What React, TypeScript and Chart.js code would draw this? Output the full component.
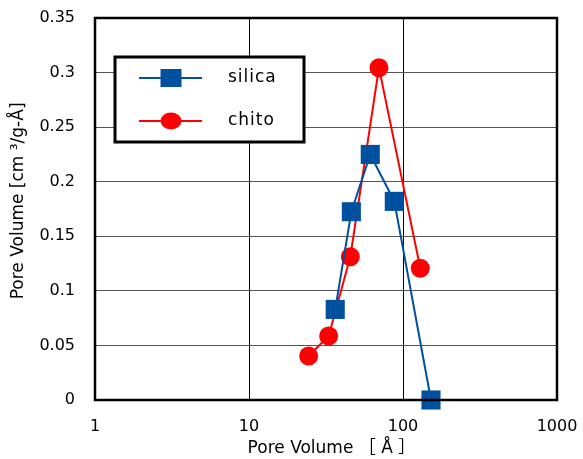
import React, { useEffect, useRef } from "react";
import { Chart, registerables } from "chart.js";

Chart.register(...registerables);

const seriesNames = ["silica", "chito"];
const silicaX = [36.3, 46.2, 61.3, 87.8, 152];
const silicaY = [0.083, 0.1725, 0.225, 0.182, 0];
const chitoX = [24.4, 32.9, 45.5, 69.8, 129.5];
const chitoY = [0.0403, 0.0586, 0.1313, 0.3045, 0.1207];
const xTicks = [1, 10, 100, 1000];
const yMin = 0;
const yMax = 0.35;
const yStep = 0.05;
const xTitle = "  Pore Volume ［ Å ］";
const yTitle = "   Pore Volume [cm ³/g-Å]";

const FONT = "'DejaVu Sans', 'Noto Sans CJK JP', sans-serif";
const BLUE = "#0050A0";
const RED = "#FF0000";

const zeroPad = (s: any) => {
  s.paddingTop = 0;
  s.paddingBottom = 0;
  s.paddingLeft = 0;
  s.paddingRight = 0;
};

const frameAndLegend = {
  id: "frameAndLegend",
  afterDatasetsDraw(chart: any) {
    const { ctx, chartArea } = chart;
    ctx.save();
    ctx.strokeStyle = "#000";
    ctx.lineWidth = 2.5;
    ctx.strokeRect(chartArea.left, chartArea.top, chartArea.right - chartArea.left, chartArea.bottom - chartArea.top);
    ctx.restore();
  },
  afterDraw(chart: any) {
    const { ctx } = chart;
    ctx.save();
    const bx = 115, by = 57, bw = 189, bh = 85;
    ctx.fillStyle = "#fff";
    ctx.fillRect(bx, by, bw, bh);
    ctx.strokeStyle = "#000";
    ctx.lineWidth = 3;
    ctx.strokeRect(bx, by, bw, bh);
    const rows = [78, 121];
    chart.data.datasets.forEach((ds: any, i: number) => {
      const y = rows[i];
      ctx.strokeStyle = ds.borderColor;
      ctx.lineWidth = 2;
      ctx.beginPath();
      ctx.moveTo(139, y);
      ctx.lineTo(202, y);
      ctx.stroke();
      ctx.fillStyle = ds.backgroundColor;
      if (ds.pointStyle === "rect") {
        ctx.fillRect(171 - 10.5, y - 9, 21, 18);
      } else {
        ctx.beginPath();
        ctx.ellipse(171, y, 10.5, 8.5, 0, 0, Math.PI * 2);
        ctx.fill();
      }
      ctx.fillStyle = "#000";
      ctx.font = `17px ${FONT}`;
      (ctx as any).letterSpacing = "1px";
      ctx.textBaseline = "middle";
      ctx.textAlign = "left";
      ctx.fillText(ds.label, 228, y);
      (ctx as any).letterSpacing = "0px";
    });
    ctx.restore();
  },
};

export default function App() {
  const ref = useRef<HTMLCanvasElement>(null);
  useEffect(() => {
    if (!ref.current) return;
    const chart = new Chart(ref.current, {
      type: "line",
      data: {
        datasets: [
          {
            label: seriesNames[0],
            data: silicaX.map((x, i) => ({ x, y: silicaY[i] })),
            borderColor: BLUE,
            backgroundColor: BLUE,
            borderWidth: 2,
            pointStyle: "rect",
            pointRadius: 13.5,
            pointBorderWidth: 0,
            clip: false,
          },
          {
            label: seriesNames[1],
            data: chitoX.map((x, i) => ({ x, y: chitoY[i] })),
            borderColor: RED,
            backgroundColor: RED,
            borderWidth: 2,
            pointStyle: "circle",
            pointRadius: 9.5,
            pointBorderWidth: 0,
            clip: false,
          },
        ],
      },
      options: {
        animation: false,
        responsive: false,
        maintainAspectRatio: false,
        layout: { padding: { left: 0, top: 18, right: 26, bottom: 0 } },
        plugins: { legend: { display: false }, tooltip: { enabled: false } },
        scales: {
          x: {
            type: "logarithmic",
            min: 1,
            max: 1000,
            afterBuildTicks: (s: any) => {
              s.ticks = xTicks.map((v) => ({ value: v }));
            },
            afterFit: (s: any) => {
              s.height = 59;
              zeroPad(s);
            },
            ticks: {
              autoSkip: false,
              maxRotation: 0,
              padding: 17,
              color: "#000",
              font: { family: FONT, size: 16 },
              callback: (v: any) => String(v),
            },
            grid: { color: "#000", lineWidth: 1, drawTicks: false },
            border: { display: false },
            title: {
              display: true,
              text: xTitle,
              color: "#000",
              font: { family: FONT, size: 17 },
              padding: { top: 0, bottom: 0 },
            },
          },
          y: {
            min: yMin,
            max: yMax,
            afterFit: (s: any) => {
              s.width = 95;
              zeroPad(s);
            },
            ticks: {
              stepSize: yStep,
              padding: 20,
              color: "#000",
              font: { family: FONT, size: 16 },
              callback: (v: any) => String(+Number(v).toFixed(2)),
            },
            grid: { color: "#555", lineWidth: 1, drawTicks: false },
            border: { display: false },
            title: {
              display: true,
              text: yTitle,
              color: "#000",
              font: { family: FONT, size: 17 },
              padding: { top: 8, bottom: 0 },
            },
          },
        },
      },
      plugins: [frameAndLegend],
    });
    return () => chart.destroy();
  }, []);
  return (
    <div style={{ position: "fixed", left: 0, top: 0, width: 583, height: 459, background: "#fff" }}>
      <canvas ref={ref} width={583} height={459} style={{ width: 583, height: 459 }} />
    </div>
  );
}
